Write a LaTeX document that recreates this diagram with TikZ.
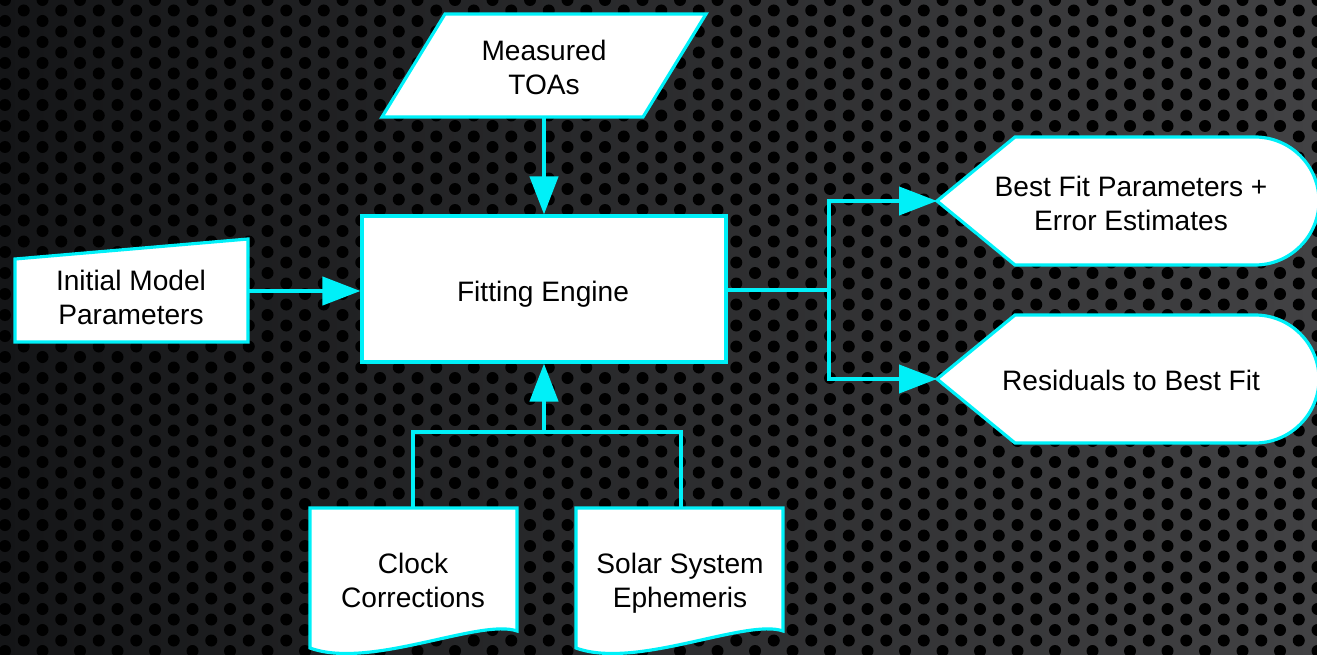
\documentclass[tikz,border=0pt]{standalone}
\usepackage{fontspec}
\setmainfont{Liberation Sans}
\usetikzlibrary{arrows.meta}
\definecolor{cy}{RGB}{0,240,248}
\definecolor{mA}{RGB}{20,21,23}
\definecolor{mB}{RGB}{50,50,52}
\definecolor{mC}{RGB}{66,66,68}
\begin{document}
\begin{tikzpicture}[x=0.02cm, y=-0.02cm,
 shp/.style={draw=cy, fill=white, line width=1.8pt, line join=miter},
 lbl/.style={align=center, text=black, font=\fontsize{16}{19.3}\selectfont, inner sep=0pt},
 conn/.style={draw=cy, line width=2.4pt},
 arr/.style={conn, -{Triangle[length=0.76cm, width=0.56cm]}}]
\useasboundingbox (0,0) rectangle (1317,655);
\begin{scope}
\clip (0,0) rectangle (1317,655);
\shade[left color=mA, middle color=mB, right color=mC] (0,0) rectangle (1317,655);
\fill[black] \foreach \i in {0,...,71} {\foreach \j in {0,...,32} {(\i*18.75+5, {\j*21+mod(\i,2)*10.5}) circle[radius=6]}};
\end{scope}

% Measured TOAs
\draw[shp] (445,14) -- (706,14) -- (643,117) -- (382,117) -- cycle;
\node[lbl] (toa) at (544,67) {Measured\\TOAs};
\coordinate (toaB) at (544,117);

% Fitting engine
\node[shp, minimum width=7.28cm, minimum height=2.92cm] (fit) at (544,289) {};
\node[lbl] (fitl) at (543,294) {Fitting Engine};

% Initial model parameters
\draw[shp] (15,259) -- (248,239) -- (248,342) -- (15,342) -- cycle;
\node[lbl] (imp) at (131,297) {Initial Model\\Parameters};
\coordinate (impE) at (248,291);

% Clock corrections and ephemeris
\draw[shp] (310,508) -- (517,508) -- (517,631) .. controls (480,618) and (370,670) .. (310,648) -- cycle;
\node[lbl] (clk) at (413,580) {Clock\\Corrections};
\draw[shp] (576,508) -- (783,508) -- (783,631) .. controls (746,618) and (636,670) .. (576,648) -- cycle;
\node[lbl] (sse) at (680,583) {Solar System\\Ephemeris};
\coordinate (clkT) at (413,508);
\coordinate (sseT) at (681,508);
\coordinate (join) at (544,432);

% Outputs
\draw[shp] (937,201) -- (1015,137) -- (1255,137) arc[start angle=-90, end angle=90, radius=64] -- (1015,265) -- cycle;
\node[lbl] (bfp) at (1131,203) {Best Fit Parameters +\\Error Estimates};
\coordinate (bfpW) at (937,201);
\draw[shp] (937,379) -- (1015,315) -- (1255,315) arc[start angle=-90, end angle=90, radius=64] -- (1015,443) -- cycle;
\node[lbl] (res) at (1131,380) {Residuals to Best Fit};
\coordinate (resW) at (937,379);
\coordinate (jr) at (829,290);

% Connectors
\draw[arr] (toaB) -- (fit.north);
\draw[arr] (impE) -- (fit.west |- impE);
\draw[conn, line join=miter] (clkT) |- (join) -| (sseT);
\draw[arr] (join) -- (fit.south);
\draw[conn] (fit.east |- jr) -- (jr);
\draw[arr, line join=miter] (jr) |- (bfpW);
\draw[arr, line join=miter] (jr) |- (resW);
\end{tikzpicture}
\end{document}
